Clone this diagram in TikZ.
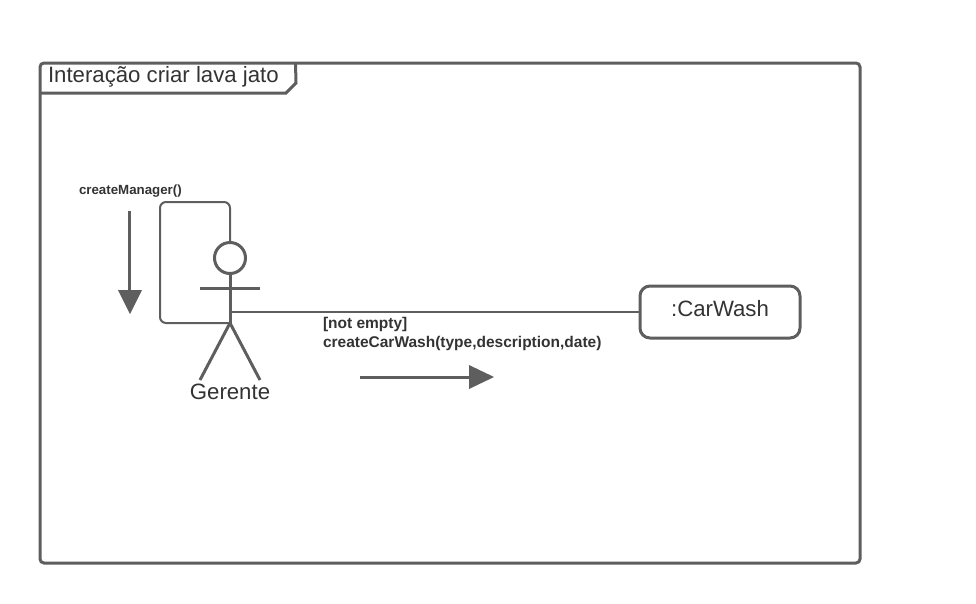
\documentclass[tikz,border=0pt]{standalone}
\usepackage{fontspec}
\setmainfont{Liberation Sans}
\definecolor{ln}{HTML}{5E5E5E}
\definecolor{tx}{HTML}{333333}
\tikzset{
  px/.style={x=1pt,y=-1pt},
  heavy/.style={draw=ln,line width=3pt},
  thin line/.style={draw=ln,line width=2pt},
  tip/.style={fill=ln,draw=none},
  txt/.style={text=tx,inner sep=0pt,outer sep=0pt},
  blabel/.style={txt,font=\bfseries,anchor=west}
}
\begin{document}
\begin{tikzpicture}[px]
\useasboundingbox (0,0) rectangle (976,603);
% frame
\draw[heavy,rounded corners=4pt] (40,63) rectangle (860,563);
\draw[heavy,line join=miter] (40,93) -- (286,93) -- (296,83) -- (295.5,63);
\node[txt,anchor=west,font=\fontsize{22.2}{24}\selectfont] (title) at (48,77) {Interação criar lava jato};
% actor
\node[circle,draw=ln,line width=3pt,minimum size=31pt,inner sep=0pt] (head) at (230,258) {};
\coordinate (hip) at (230,323);
\coordinate (handL) at (200,288);
\coordinate (handR) at (260,288);
\coordinate (footL) at (200,380);
\coordinate (footR) at (260,380);
\coordinate (neckjoin) at (230,312);
\draw[heavy] (head) ++(0,15.5) -- (hip);
\draw[heavy] (handL) -- (handR);
\draw[heavy] (footL) -- (hip) -- (footR);
\node[txt,font=\fontsize{22.2}{24}\selectfont] (gerente) at (230,392) {Gerente};
% self loop
\draw[thin line,rounded corners=6pt] (head.north) -- (230,202) -- (160,202) -- (160,323) -- (hip);
\node[blabel,font=\bfseries\fontsize{13.3}{15}\selectfont] (cm) at (79,191) {createManager()};
% down arrow
\coordinate (da) at (129,211);
\coordinate (db) at (129,292);
\draw[thin line,line width=3pt] (da) -- (db);
\path[tip] (118,290) -- (142,290) -- (130,314) -- cycle;
% carwash
\node[draw=ln,line width=3pt,rounded corners=10pt,minimum width=160pt,minimum height=52pt,inner sep=0pt] (cw) at (720,312) {};
\node[txt,font=\fontsize{22.2}{24}\selectfont] (cwt) at (720,309) {:CarWash};
\draw[thin line] (neckjoin) -- (cw.west);
\node[blabel,font=\bfseries\fontsize{15.5}{17}\selectfont] (l1) at (323,324) {[not empty]};
\node[blabel,font=\bfseries\fontsize{15.5}{17}\selectfont] (l2) at (323,343) {createCarWash(type,description,date)};
% right arrow
\coordinate (ra) at (360,377);
\coordinate (rb) at (472,377);
\draw[thin line,line width=3pt] (ra) -- (rb);
\path[tip] (469,365) -- (494,377) -- (469,389) -- cycle;
\end{tikzpicture}
\end{document}
